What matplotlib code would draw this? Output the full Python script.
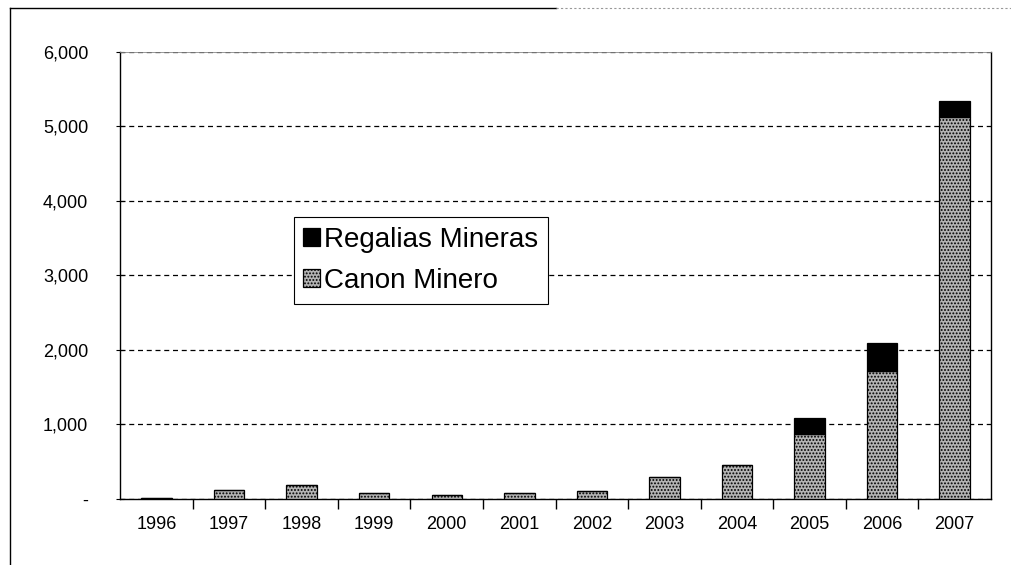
import matplotlib.pyplot as plt
from matplotlib.ticker import FuncFormatter
from matplotlib.lines import Line2D

plt.rcParams['font.family'] = ['Liberation Sans', 'DejaVu Sans']
plt.rcParams['hatch.color'] = '#2a2a2a'
plt.rcParams['hatch.linewidth'] = 0.9

years = ['1996', '1997', '1998', '1999', '2000', '2001',
         '2002', '2003', '2004', '2005', '2006', '2007']
canon = [15, 115, 180, 80, 55, 80, 110, 290, 455, 870, 1720, 5130]
regalias = [0, 0, 0, 0, 0, 0, 0, 0, 0, 210, 370, 210]

fig = plt.figure(figsize=(10.11, 5.65), dpi=100)
ax = fig.add_axes([0.119, 0.117, 0.861, 0.791])

x = list(range(len(years)))
ax.bar(x, canon, width=0.42, color='#b4b4b4', edgecolor='black',
       linewidth=0.9, hatch='.....', label='Canon Minero', zorder=3)
ax.bar(x, regalias, width=0.42, bottom=canon, color='black',
       edgecolor='black', linewidth=0.9, label='Regalias Mineras', zorder=3)

ax.set_xlim(-0.5, len(years) - 0.5)
ax.set_ylim(0, 6000)
ax.set_yticks(range(0, 6001, 1000))
ax.yaxis.set_major_formatter(
    FuncFormatter(lambda v, p: '-' if v == 0 else f'{int(v):,}'))
ax.yaxis.grid(True, linestyle=(0, (4, 3)), color='black', linewidth=0.9)
ax.set_axisbelow(True)

ax.set_xticks(x)
ax.set_xticklabels(years)
ax.set_xticks([i + 0.5 for i in x[:-1]], minor=True)
ax.tick_params(axis='x', which='major', length=0, pad=12, labelsize=13)
ax.tick_params(axis='x', which='minor', length=7, width=1, direction='out')
ax.tick_params(axis='y', length=6, direction='inout', pad=20, labelsize=13)

ax.spines['top'].set_color('#888888')
ax.spines['top'].set_linewidth(0.6)
for s in ['left', 'right', 'bottom']:
    ax.spines[s].set_linewidth(1.0)

handles, labels = ax.get_legend_handles_labels()
leg = ax.legend(handles[::-1], labels[::-1], loc='upper left',
                bbox_to_anchor=(0.199, 0.631), borderaxespad=0, fontsize=20,
                frameon=True, fancybox=False, edgecolor='black', framealpha=1,
                handlelength=0.6, handleheight=0.6, handletextpad=0.15,
                borderpad=0.35, labelspacing=0.55)
leg.get_frame().set_linewidth(0.8)

# scanned page border on left and top
fig.add_artist(Line2D([0.01, 0.01], [0.0, 0.985], color='black', linewidth=1,
                      transform=fig.transFigure))
fig.add_artist(Line2D([0.01, 0.55], [0.985, 0.985], color='black', linewidth=1,
                      transform=fig.transFigure))
fig.add_artist(Line2D([0.55, 1.0], [0.985, 0.985], color='#999999',
                      linewidth=0.8, linestyle=(0, (2, 2)),
                      transform=fig.transFigure))

fig.savefig('out.png', dpi=100)
